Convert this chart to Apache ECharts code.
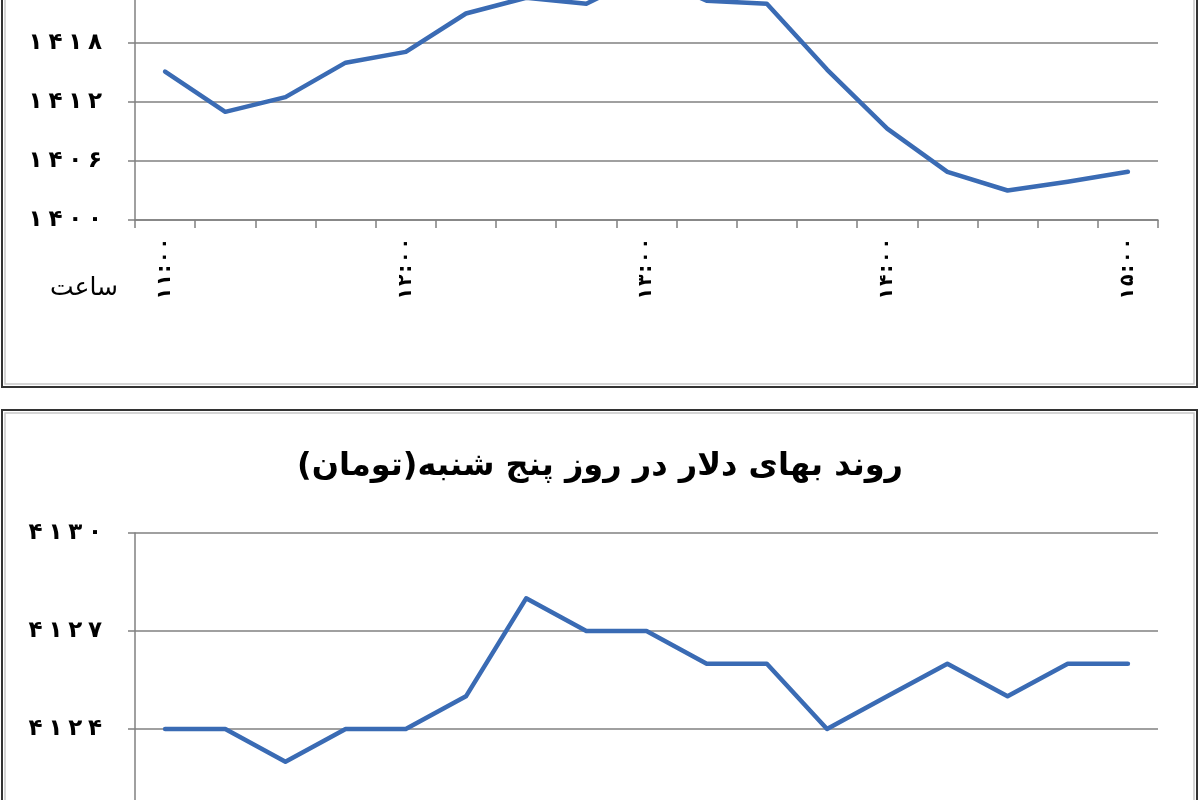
<!DOCTYPE html>
<html>
<head>
<meta charset="utf-8">
<script src="https://cdn.jsdelivr.net/npm/echarts@6/dist/echarts.min.js"></script>
<style>
html,body{margin:0;padding:0;background:#fff;width:1200px;height:800px;overflow:hidden;}
#c{position:absolute;left:0;top:-100px;width:1200px;height:1000px;}
</style>
</head>
<body>
<div id="c"></div>
<script>
// Time categories (Persian digits)
const categories = ['۱۱:۰۰','۱۱:۱۵','۱۱:۳۰','۱۱:۴۵','۱۲:۰۰','۱۲:۱۵','۱۲:۳۰','۱۲:۴۵','۱۳:۰۰','۱۳:۱۵','۱۳:۳۰','۱۳:۴۵','۱۴:۰۰','۱۴:۱۵','۱۴:۳۰','۱۴:۴۵','۱۵:۰۰'];
// Top chart values (toman)
const topValues = [1415.1, 1411.0, 1412.5, 1416.0, 1417.1, 1421.0, 1422.6, 1422.0, 1425.0, 1422.3, 1422.0, 1415.3, 1409.3, 1404.9, 1403.0, 1403.9, 1404.9];
// Bottom chart values: dollar price on Thursday (toman)
const dollarValues = [4124, 4124, 4123, 4124, 4124, 4125, 4128, 4127, 4127, 4126, 4126, 4124, 4125, 4126, 4125, 4126, 4126];
// Axis ranges
const topAxis = {min: 1400, max: 1430, interval: 6};
const bottomAxis = {min: 4121, max: 4130, interval: 3};
const titleText = 'روند بهای دلار در روز پنج شنبه(تومان)';
const xAxisName = 'ساعت';

const faDigits = '۰۱۲۳۴۵۶۷۸۹';
function toFa(v){ return String(v).replace(/[0-9]/g, d => faDigits[+d]); }

const FONT = 'DejaVu Sans';
const LINE = '#3A6BB4';
const GRID = '#808080';

function xAxisCfg(gridIndex){
  return {
    type: 'category', gridIndex, data: categories, boundaryGap: true,
    axisLine: {show: true, lineStyle: {color: GRID, width: 1.5}},
    axisTick: {show: true, length: 8, interval: 0, lineStyle: {color: GRID, width: 1.5}},
    axisLabel: {interval: 3, rotate: 90, margin: 18, color: '#000', fontFamily: FONT, fontWeight: 'bold', fontSize: 19,
      formatter: s => s.split('').join('\u200A')},
    splitLine: {show: false}
  };
}
function yAxisCfg(gridIndex, ax){
  return {
    type: 'value', gridIndex, min: ax.min, max: ax.max, interval: ax.interval,
    axisLine: {show: true, lineStyle: {color: GRID, width: 1.5}},
    axisTick: {show: true, length: 7, lineStyle: {color: GRID, width: 1.5}},
    axisLabel: {margin: 33, color: '#000', fontFamily: FONT, fontWeight: 'bold', fontSize: 23,
      formatter: v => toFa(v).split('').join('\u2005')},
    splitLine: {show: true, lineStyle: {color: GRID, width: 1.5}}
  };
}
function lineSeries(idx, data){
  return {
    type: 'line', xAxisIndex: idx, yAxisIndex: idx, data,
    symbol: 'none', smooth: false,
    lineStyle: {color: LINE, width: 4.5, join: 'round', cap: 'round'},
    z: 5
  };
}

const chart = echarts.init(document.getElementById('c'), null, {renderer: 'canvas'});
chart.setOption({
  backgroundColor: '#fff',
  animation: false,
  grid: [
    {left: 135, right: 42, top: 25, height: 295, containLabel: false, outerBoundsMode: 'none'},
    {left: 135, right: 42, top: 633, height: 294, containLabel: false, outerBoundsMode: 'none'}
  ],
  xAxis: [xAxisCfg(0), xAxisCfg(1)],
  yAxis: [yAxisCfg(0, topAxis), yAxisCfg(1, bottomAxis)],
  series: [lineSeries(0, topValues), lineSeries(1, dollarValues)],
  graphic: [
    {type: 'rect', silent: true, shape: {x: 2, y: 0, width: 1195, height: 487}, style: {fill: 'none', stroke: '#333', lineWidth: 2}},
    {type: 'rect', silent: true, shape: {x: 5, y: 0, width: 1189, height: 484}, style: {fill: 'none', stroke: '#c8c8c8', lineWidth: 1.5}},
    {type: 'rect', silent: true, shape: {x: 2, y: 510, width: 1195, height: 488}, style: {fill: 'none', stroke: '#333', lineWidth: 2}},
    {type: 'rect', silent: true, shape: {x: 5, y: 513, width: 1189, height: 485}, style: {fill: 'none', stroke: '#c8c8c8', lineWidth: 1.5}},
    {type: 'text', silent: true, x: 118, y: 388, style: {text: xAxisName, fill: '#000', font: '25px "' + FONT + '"', align: 'right', verticalAlign: 'middle'}},
    {type: 'text', silent: true, x: 600, y: 567, style: {text: titleText, fill: '#000', font: 'bold 32px "' + FONT + '"', align: 'center', verticalAlign: 'middle'}}
  ]
});
</script>
</body>
</html>
